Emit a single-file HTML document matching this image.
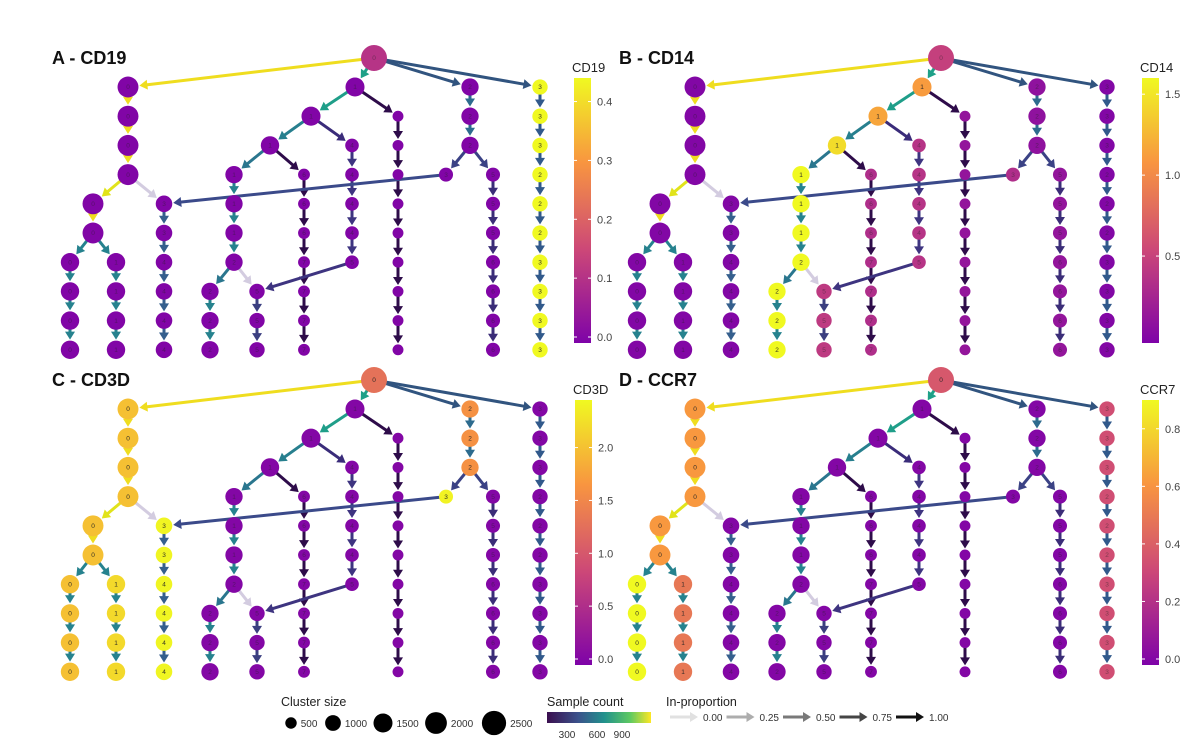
<!DOCTYPE html>
<html><head><meta charset="utf-8"><style>
body{margin:0;background:#fff;}
svg{display:block;font-family:"Liberation Sans",sans-serif;}
</style></head><body>
<svg id="fig" width="1200" height="743" viewBox="0 0 1200 743"></svg>
<script>
// ---- tree structure (shared by all panels) ----
const colIds   = ['root','c0','c1','c2','c3','c4','c5','c6','c7','c8','c9','c10','c11','c12','c13','c14','c15','c16','c17'];
const colX     = [374,128,93,70,116,164,355,311,270,234,210,257,304,352,398,470,446,493,540];
const colRowStart = [0,1,5,7,7,5,1,2,3,4,8,8,4,3,2,1,4,4,1];
const colRowEnd   = [0,4,6,10,10,10,1,2,3,7,10,10,10,7,10,3,4,10,10];
const colSize  = [2600,1650,1650,1250,1250,1000,1350,1350,1250,1100,1100,850,480,650,400,1100,700,700,850];
const colLabels = [['0'],['0'],['0'],['0'],['1'],['3','3','4','4','4','4'],['1'],['1'],['1'],['1','1','1','2'],['2'],['5'],['6','6','6','7','7','7','7'],['4','4','4','4','5'],[''],['2'],['3'],['5','5','5','6','6','6','6'],['3','3','3','2','2','2','3','3','3','3']];
const chainColor = ['','#efdd1f','#efdd1f','#26828e','#26828e','#355f8d','','','','#26828e','#26828e','#3b3f80','#2e0c4a','#3e3480','#2e0c4a','#2d6b8e','','#3b2d78','#31598b'];
// cross edges
const edgeFrom = ['root','root','root','root','c0','c0','c1','c1','c5','c5','c6','c6','c7','c7','c8','c8','c12','c14','c14','c15'];
const edgeFromRow = [0,0,0,0,4,4,6,6,1,1,2,2,3,3,7,7,7,3,3,4];
const edgeTo   = ['c0','c5','c14','c17','c1','c4','c2','c3','c6','c13','c7','c12','c8','c11','c9','c10','c10','c15','c16','c4'];
const edgeToRow = [1,1,1,1,5,5,7,7,2,2,3,3,4,4,8,8,8,4,4,5];
const edgeColor = ['#efdd1f','#1fa088','#31547f','#31547f','#e1e31a','#d3cce0','#26828e','#26828e','#1f9e89','#2e0c4a','#277f8e','#3a2c7a','#2a768e','#2e0c4a','#2a768e','#d3cce0','#3e3480','#3b4285','#3b4285','#3b4a8a'];
// ---- per-panel data ----
const panelTitles = ['A - CD19','B - CD14','C - CD3D','D - CCR7'];
const panelGenes  = ['CD19','CD14','CD3D','CCR7'];
const panelMax    = [0.44,1.6,2.45,0.9];
const panelTicks  = [[0,0.1,0.2,0.3,0.4],[0.5,1.0,1.5],[0,0.5,1.0,1.5,2.0],[0,0.2,0.4,0.6,0.8]];
const panelBase   = [0.005,0.03,0.05,0.02];
const valsA = {root:0.11,c17:0.44};
const valsB = {root:0.5,c5:1.12,c6:1.17,c7:1.45,c8:1.6,c9:1.6,c10:0.45,c11:0.35,c12:0.4,c15:0.35,c13:0.15,c14:0.12,c16:0.15};
const valsC = {root:1.3,c0:2.0,c1:2.0,c2:2.0,c3:2.2,c4:2.42,c14:1.62,c15:2.4};
const valsD = {root:0.38,c0:0.62,c1:0.62,c2:0.9,c3:0.5,c17:0.34};
const panelVals = [valsA,valsB,valsC,valsD];
const panelDX = [0,567,0,567];
const panelDY = [0,0,322,322];
const panelBarX = [574,1142,575,1142];
const panelBarTop = [78,78,400,400];
const panelBarBottom = [343,343,665,665];
// ---- legend data ----
const sizeVals = [500,1000,1500,2000,2500];
const propVals = [0,0.25,0.5,0.75,1.0];
const propLabels = ['0.00','0.25','0.50','0.75','1.00'];
const countTicks = ['300','600','900'];

const NS='http://www.w3.org/2000/svg';
const svg=document.getElementById('fig');
function mk(tag,attrs,parent){const e=document.createElementNS(NS,tag);for(const k in attrs)e.setAttribute(k,attrs[k]);(parent||svg).appendChild(e);return e;}
function hex(h){return [parseInt(h.slice(1,3),16),parseInt(h.slice(3,5),16),parseInt(h.slice(5,7),16)];}
const stops=[[0,'#7e03a8'],[0.35,'#cc4778'],[0.68,'#f89540'],[1,'#f0f921']];
function plasma(t){t=Math.max(0,Math.min(1,t));for(let i=1;i<stops.length;i++){if(t<=stops[i][0]){const a=stops[i-1],b=stops[i];const f=(t-a[0])/(b[0]-a[0]);const ca=hex(a[1]),cb=hex(b[1]);return 'rgb('+ca.map((v,j)=>Math.round(v+(cb[j]-v)*f)).join(',')+')';}}return stops[stops.length-1][1];}
function rowY(r){return r===0?58:87+(r-1)*29.2;}
function radius(s){return 0.6+Math.sqrt(s)*0.243;}
function idx(id){return colIds.indexOf(id);}

const defs=mk('defs',{});
const grad=mk('linearGradient',{id:'plasmaV',x1:0,y1:1,x2:0,y2:0},defs);
stops.forEach(s=>mk('stop',{offset:s[0],'stop-color':s[1]},grad));
const grad2=mk('linearGradient',{id:'viridisH',x1:0,y1:0,x2:1,y2:0},defs);
[['0','#3b0f4f'],['0.3','#3b528b'],['0.55','#21918c'],['0.8','#5ec962'],['1','#fde725']].forEach(s=>mk('stop',{offset:s[0],'stop-color':s[1]},grad2));

function arrow(g,x1,y1,x2,y2,rEnd,color,w){
  const dx=x2-x1,dy=y2-y1,L=Math.hypot(dx,dy),ux=dx/L,uy=dy/L;
  const tipX=x2-ux*(rEnd+1),tipY=y2-uy*(rEnd+1);
  const hl=8,hw=5;
  const bx=tipX-ux*hl,by=tipY-uy*hl;
  const ln=mk('line',{x1:x1,y1:y1,x2:bx+ux,y2:by+uy,stroke:color,'stroke-width':w},g);
  
  
  const hd=mk('polygon',{points:`${tipX},${tipY} ${bx-uy*hw},${by+ux*hw} ${bx+uy*hw},${by-ux*hw}`,fill:color},g);
  
  
}

for(let p=0;p<4;p++){
  const g=mk('g',{transform:`translate(${panelDX[p]},${panelDY[p]})`});
  
  
  const t=mk('text',{x:52,y:64,'font-size':18,'font-weight':'bold',fill:'#111'},g);t.textContent=panelTitles[p];
  
  
  const eg=mk('g',{},g);
  colIds.forEach((id,i)=>{
    for(let r=colRowStart[i];r<colRowEnd[i];r++){
      arrow(eg,colX[i],rowY(r),colX[i],rowY(r+1),radius(colSize[i]),chainColor[i],3);
    }
  });
  edgeFrom.forEach((f,k)=>{
    const a=idx(f),b=idx(edgeTo[k]);
    arrow(eg,colX[a],rowY(edgeFromRow[k]),colX[b],rowY(edgeToRow[k]),radius(colSize[b]),edgeColor[k],3);
  });
  const ng=mk('g',{},g);
  colIds.forEach((id,i)=>{
    const v=(panelVals[p][id]!==undefined)?panelVals[p][id]:panelBase[p];
    const col=plasma(v/panelMax[p]);
    for(let r=colRowStart[i];r<=colRowEnd[i];r++){
      const c=mk('circle',{cx:colX[i],cy:rowY(r),r:radius(colSize[i]),fill:col},ng);
      
      
      const labs=colLabels[i];const lab=labs[Math.min(r-colRowStart[i],labs.length-1)];
      if(lab){const tx=mk('text',{x:colX[i],y:rowY(r)+2.2,'font-size':6.5,'text-anchor':'middle',fill:'#222','fill-opacity':v/panelMax[p]>0.4?0.9:0.45},ng);tx.textContent=lab;}
    }
  });
  const bx=panelBarX[p]-panelDX[p], top=panelBarTop[p]-panelDY[p], bot=panelBarBottom[p]-panelDY[p];
  const cb=mk('g',{},g);
  
  
  const ct=mk('text',{x:bx-2,y:top-6,'font-size':13,fill:'#222'},cb);ct.textContent=panelGenes[p];
  mk('rect',{x:bx,y:top,width:17,height:bot-top,fill:'url(#plasmaV)'},cb);
  panelTicks[p].forEach(tv=>{
    const y=bot-6-(tv/panelMax[p])*(bot-top-6);
    mk('line',{x1:bx,x2:bx+3,y1:y,y2:y,stroke:'#fff','stroke-width':1},cb);
    mk('line',{x1:bx+14,x2:bx+17,y1:y,y2:y,stroke:'#fff','stroke-width':1},cb);
    const tt=mk('text',{x:bx+23,y:y+4,'font-size':11,fill:'#444'},cb);tt.textContent=tv.toFixed(1);
  });
}

// ---- legends ----
const lg=mk('g',{});


let tt=mk('text',{x:281,y:706,'font-size':12.5,fill:'#222'},lg);tt.textContent='Cluster size';
const sizeX=[291,333,383,436,494];
sizeVals.forEach((s,i)=>{
  const rr=radius(s)*0.95;
  const c=mk('circle',{cx:sizeX[i],cy:723,r:rr,fill:'#000'},lg);
  
  
  const t=mk('text',{x:sizeX[i]+rr+4,y:727,'font-size':10,fill:'#333'},lg);t.textContent=s;
});
tt=mk('text',{x:547,y:706,'font-size':12.5,fill:'#222'},lg);tt.textContent='Sample count';
const sc=mk('rect',{x:547,y:712,width:104,height:11,fill:'url(#viridisH)'},lg);


const ctX=[567,597,622];
countTicks.forEach((l,i)=>{const t=mk('text',{x:ctX[i],y:738,'font-size':10,fill:'#333','text-anchor':'middle'},lg);t.textContent=l;});
tt=mk('text',{x:666,y:706,'font-size':12.5,fill:'#222'},lg);tt.textContent='In-proportion';
propVals.forEach((v,i)=>{
  const x0=670+i*56.5;
  const g=Math.round(225-v*208);
  const col=`rgb(${g},${g},${g})`;
  arrow(lg,x0,717,x0+29,717,0,col,3);
  const t=mk('text',{x:x0+33,y:721,'font-size':10,fill:'#333'},lg);t.textContent=propLabels[i];
});
</script>
</body></html>
